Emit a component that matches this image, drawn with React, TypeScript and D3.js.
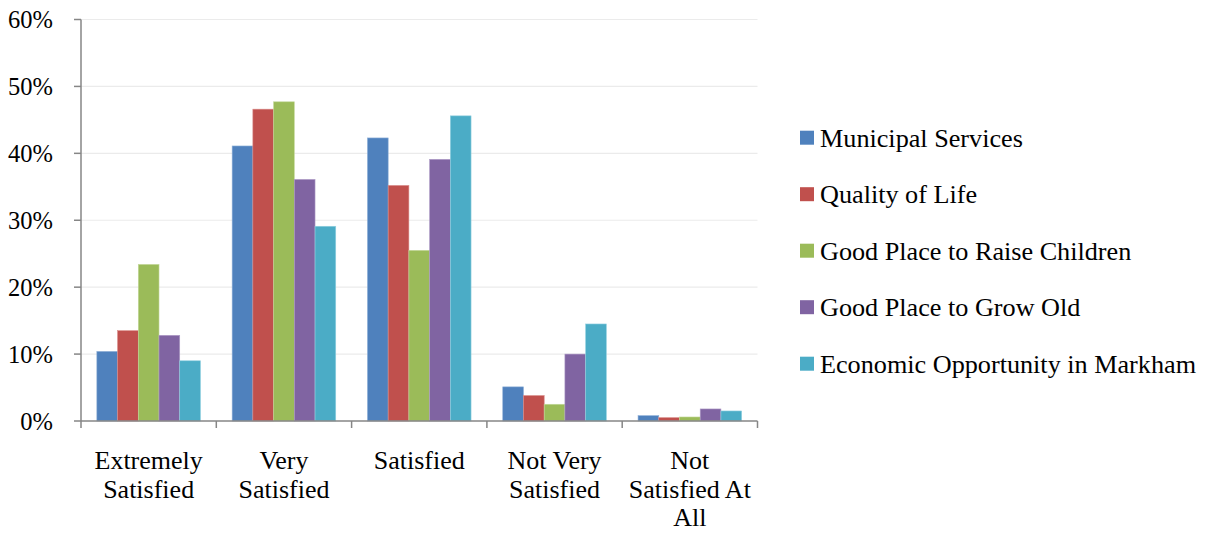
import React from "react";
import * as d3 from "d3";

const categories: string[][] = [
  ["Extremely", "Satisfied"],
  ["Very", "Satisfied"],
  ["Satisfied"],
  ["Not Very", "Satisfied"],
  ["Not", "Satisfied At", "All"],
];
const seriesNames = [
  "Municipal Services",
  "Quality of Life",
  "Good Place to Raise Children",
  "Good Place to Grow Old",
  "Economic Opportunity in Markham",
];
const municipalServices = [10.4, 41.1, 42.3, 5.1, 0.8];
const qualityOfLife = [13.5, 46.6, 35.2, 3.8, 0.5];
const raiseChildren = [23.4, 47.7, 25.5, 2.5, 0.6];
const growOld = [12.8, 36.1, 39.1, 10.0, 1.8];
const economicOpportunity = [9.0, 29.1, 45.6, 14.5, 1.5];
const seriesValues = [municipalServices, qualityOfLife, raiseChildren, growOld, economicOpportunity];
const colors = ["#4F81BD", "#C0504D", "#9BBB59", "#8064A2", "#4BACC6"];
const strokes = ["#8FB0D8", "#D98B89", "#C3D89A", "#AE9BC6", "#92D0E0"];
const yTicks = [0, 10, 20, 30, 40, 50, 60];

const W = 1210;
const H = 533;
const left = 81;
const right = 757.5;
const top = 19.5;
const bottom = 421;
const font = "'Liberation Serif', 'Times New Roman', serif";

export default function App() {
  const y = d3.scaleLinear().domain([0, 60]).range([bottom, top]);
  const x0 = d3
    .scaleBand<number>()
    .domain(d3.range(categories.length))
    .range([left, right])
    .paddingInner(0);
  const bw = x0.bandwidth();
  const groupW = bw * (5 / (5 + 1.53));
  const x1 = d3
    .scaleBand<number>()
    .domain(d3.range(seriesNames.length))
    .range([(bw - groupW) / 2, (bw + groupW) / 2]);

  return (
    <svg
      width={W}
      height={H}
      style={{ position: "absolute", left: 0, top: 0, background: "#fff" }}
      fontFamily={font}
    >
      {yTicks.map((t) => (
        <g key={t}>
          {t > 0 && (
            <line x1={left} x2={right} y1={y(t)} y2={y(t)} stroke="#EBEBEB" strokeWidth={1.2} />
          )}
          <line x1={left - 7} x2={left} y1={y(t)} y2={y(t)} stroke="#868686" strokeWidth={1.5} />
          <text x={53} y={y(t)} dy="0.35em" textAnchor="end" fontSize={24.5} fill="#000">
            {t}%
          </text>
        </g>
      ))}
      {seriesValues.map((vals, s) =>
        vals.map((v, c) => (
          <rect
            key={`${s}-${c}`}
            x={(x0(c) as number) + (x1(s) as number)}
            y={y(v)}
            width={x1.bandwidth()}
            height={bottom - y(v)}
            fill={colors[s]}
            stroke={strokes[s]}
            strokeWidth={0.6}
          />
        ))
      )}
      <line x1={left} x2={left} y1={top} y2={bottom} stroke="#868686" strokeWidth={1.5} />
      <line x1={left} x2={right} y1={bottom} y2={bottom} stroke="#868686" strokeWidth={1.5} />
      {d3.range(categories.length + 1).map((i) => {
        const xx = left + i * bw;
        return <line key={i} x1={xx} x2={xx} y1={bottom} y2={bottom + 7} stroke="#868686" strokeWidth={1.5} />;
      })}
      {categories.map((lines, c) => (
        <text
          key={c}
          x={(x0(c) as number) + bw / 2}
          y={469}
          textAnchor="middle"
          fontSize={26}
          fill="#000"
        >
          {lines.map((l, i) => (
            <tspan key={i} x={(x0(c) as number) + bw / 2} dy={i === 0 ? 0 : 28.5}>
              {l}
            </tspan>
          ))}
        </text>
      ))}
      {seriesNames.map((n, i) => {
        const base = 146.7 + i * 56.5;
        return (
          <g key={n}>
            <rect x={800} y={base - 16} width={14} height={14} fill={colors[i]} />
            <text x={820} y={base} fontSize={26.2} fill="#000">
              {n}
            </text>
          </g>
        );
      })}
    </svg>
  );
}
